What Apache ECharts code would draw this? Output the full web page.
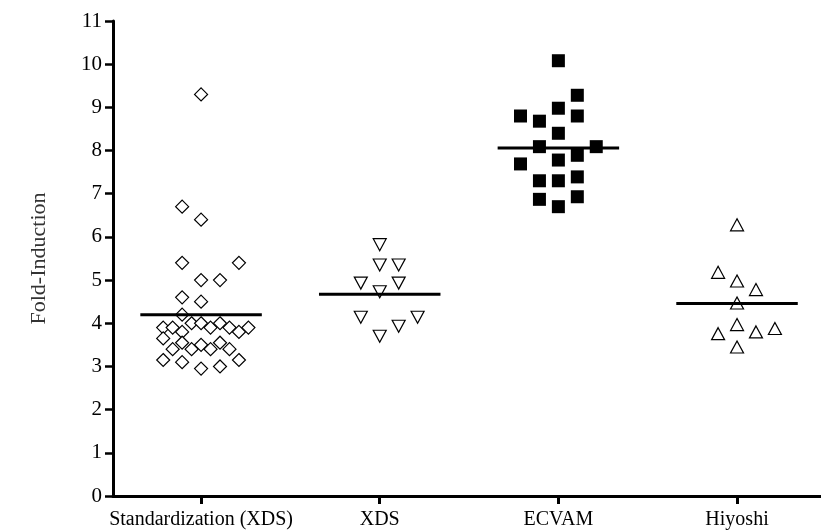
<!DOCTYPE html>
<html>
<head>
<meta charset="utf-8">
<script src="https://cdn.jsdelivr.net/npm/echarts@6/dist/echarts.min.js"></script>
<style>html,body{margin:0;padding:0;background:#fff}#c{width:821px;height:531px}</style>
</head>
<body>
<div id="c"></div>
<script>
// Data
var categories = ['Standardization (XDS)', 'XDS', 'ECVAM', 'Hiyoshi'];
var yTicks = [0,1,2,3,4,5,6,7,8,9,10,11];
var stdValues = [9.3,6.7,6.4,5.4,5.4,5.0,5.0,4.6,4.5,4.2,3.9,3.9,3.8,4.0,4.0,3.9,4.0,3.9,3.8,3.9,3.65,3.55,3.55,3.4,3.4,3.5,3.4,3.4,3.15,3.1,3.15,2.95,3.0];
var stdSlots  = [0,-2,0,-2,4,0,2,-2,0,-2,-4,-3,-2,-1,0,1,2,3,4,5,-4,-2,2,-3,-1,0,1,3,-4,-2,4,0,2];
var xdsValues = [5.82,5.35,5.35,4.93,4.93,4.73,4.14,4.14,3.93,3.70];
var xdsSlots  = [0,0,2,-2,2,0,-2,4,2,0];
var ecvamValues = [10.08,9.28,8.98,8.80,8.80,8.68,8.40,8.09,8.09,7.89,7.78,7.69,7.39,7.30,7.30,6.93,6.87,6.70];
var ecvamSlots  = [0,2,0,-4,2,-2,0,-2,4,2,0,-4,2,-2,0,2,-2,0];
var hiyoshiValues = [6.28,5.18,4.98,4.78,4.47,3.97,3.76,3.80,3.88,3.45];
var hiyoshiSlots  = [0,-2,0,2,0,0,-2,2,4,0];
var medians = [4.2, 4.67, 8.06, 4.46];

var SLOT = 0.053, HALF = 0.34;
function pts(vals, slots, c){ return vals.map(function(v,i){ return [c + slots[i]*SLOT, v]; }); }
function med(i){ var c=i+1; return [[c-HALF, medians[i]],[c+HALF, medians[i]]]; }

var font = '"Liberation Serif","Times New Roman",serif';
var sym = {color:'#fff', borderColor:'#000', borderWidth:1.2, opacity:1};
var chart = echarts.init(document.getElementById('c'), null, {renderer:'canvas'});
chart.setOption({
  animation:false,
  backgroundColor:'#fff',
  grid:{left:113, right:0, top:21, bottom:35, containLabel:false},
  xAxis:{
    type:'value', min:0.507, max:4.47,
    splitLine:{show:false},
    axisLine:{show:true, onZero:false, lineStyle:{color:'#000', width:3}},
    axisTick:{show:true, customValues:[1,2,3,4], length:8, lineStyle:{color:'#000', width:3}},
    axisLabel:{show:true, customValues:[1,2,3,4], margin:14, color:'#000', fontFamily:font, fontSize:20,
      formatter:function(v){ var i=Math.round(v)-1; return categories[i] || ''; }}
  },
  yAxis:{
    type:'value', min:0, max:11, interval:1,
    name:'Fold-Induction', nameLocation:'middle', nameGap:63,
    nameTextStyle:{color:'#333', fontFamily:font, fontSize:22},
    splitLine:{show:false},
    axisLine:{show:true, lineStyle:{color:'#000', width:3}},
    axisTick:{show:true, length:8, lineStyle:{color:'#000', width:2.5}},
    axisLabel:{margin:11, color:'#000', fontFamily:font, fontSize:21,
      formatter:function(v){ return yTicks.indexOf(v)>=0 ? String(v) : ''; }}
  },
  series:[
    {type:'scatter', data:pts(stdValues,stdSlots,1), symbol:'diamond', symbolSize:[13,13], itemStyle:sym, z:2},
    {type:'scatter', data:pts(xdsValues,xdsSlots,2), symbol:'triangle', symbolRotate:180, symbolSize:[13,12], itemStyle:sym, z:2},
    {type:'scatter', data:pts(ecvamValues,ecvamSlots,3), symbol:'rect', symbolSize:[13,13], itemStyle:{color:'#000', borderColor:'#000', borderWidth:0, opacity:1}, z:2},
    {type:'scatter', data:pts(hiyoshiValues,hiyoshiSlots,4), symbol:'triangle', symbolSize:[13,12], itemStyle:sym, z:2},
    {type:'line', data:med(0), symbol:'none', lineStyle:{color:'#000', width:3}, z:5},
    {type:'line', data:med(1), symbol:'none', lineStyle:{color:'#000', width:3}, z:5},
    {type:'line', data:med(2), symbol:'none', lineStyle:{color:'#000', width:3}, z:5},
    {type:'line', data:med(3), symbol:'none', lineStyle:{color:'#000', width:3}, z:5}
  ]
});
</script>
</body>
</html>
